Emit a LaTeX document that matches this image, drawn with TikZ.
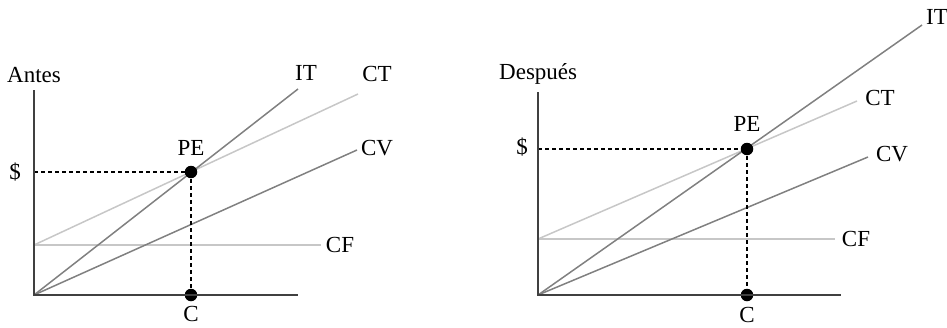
\documentclass[tikz,border=0pt]{standalone}
\usepackage{fontspec}
\setmainfont{Liberation Serif}
\begin{document}
\begin{tikzpicture}[x=1pt,y=-1pt,
  axis/.style={draw=black!75,line width=1.8pt},
  darkline/.style={draw=black!50,line width=1.5pt},
  lightline/.style={draw=black!22,line width=1.5pt},
  guide/.style={draw=black,line width=1.1pt,dash pattern=on 4pt off 3pt},
  dot/.style={circle,fill=black,inner sep=0pt,minimum size=12.5pt},
  lbl/.style={inner sep=0pt,font=\fontsize{23}{27}\selectfont}]
\useasboundingbox (0,0) rectangle (947,327);
% ---- left chart ----
\coordinate (O1) at (34,295);
\coordinate (Y1) at (34,90);
\coordinate (X1) at (298,295);
\coordinate (F1) at (34,245);
\coordinate (CFe1) at (321,245);
\coordinate (ITe1) at (298,89);
\coordinate (CTe1) at (358,94);
\coordinate (CVe1) at (357,150);
\coordinate (S1) at (34,172);
\draw[lightline] (F1) -- (CFe1);
\draw[lightline] (F1) -- (CTe1);
\draw[darkline] (O1) -- (CVe1);
\draw[darkline] (O1) -- (ITe1);
\node[dot] (PE1) at (191,172) {};
\node[dot] (C1) at (191,295) {};
\draw[guide] (S1) -- (PE1.center);
\draw[guide] (PE1.center) -- (C1.center);
\draw[axis] (Y1) -- (O1) -- (X1);
\node[lbl,anchor=west] (antes) at (7,75) {Antes};
\node[lbl] (dol1) at (15,172) {\$};
\node[lbl] (pel1) at (191,148) {PE};
\node[lbl,anchor=base] (cl1) at (191,321) {C};
\node[lbl] (itl1) at (306,73) {IT};
\node[lbl] (ctl1) at (377,74) {CT};
\node[lbl] (cvl1) at (377,148) {CV};
\node[lbl] (cfl1) at (340,245) {CF};
% ---- right chart ----
\coordinate (O2) at (538,295);
\coordinate (Y2) at (538,92);
\coordinate (X2) at (841,295);
\coordinate (F2) at (538,239);
\coordinate (CFe2) at (835,239);
\coordinate (ITe2) at (922,25);
\coordinate (CTe2) at (857,101);
\coordinate (CVe2) at (868,157);
\coordinate (S2) at (538,149);
\draw[lightline] (F2) -- (CFe2);
\draw[lightline] (F2) -- (CTe2);
\draw[darkline] (O2) -- (CVe2);
\draw[darkline] (O2) -- (ITe2);
\node[dot] (PE2) at (747,149) {};
\node[dot] (C2) at (747,295) {};
\draw[guide] (S2) -- (PE2.center);
\draw[guide] (PE2.center) -- (C2.center);
\draw[axis] (Y2) -- (O2) -- (X2);
\node[lbl,anchor=west] (despues) at (499,74) {Después};
\node[lbl] (dol2) at (522,147) {\$};
\node[lbl] (pel2) at (747,124) {PE};
\node[lbl,anchor=base] (cl2) at (747,322) {C};
\node[lbl] (itl2) at (937,17) {IT};
\node[lbl] (ctl2) at (880,98) {CT};
\node[lbl] (cvl2) at (892,154) {CV};
\node[lbl] (cfl2) at (856,239) {CF};
\end{tikzpicture}
\end{document}
